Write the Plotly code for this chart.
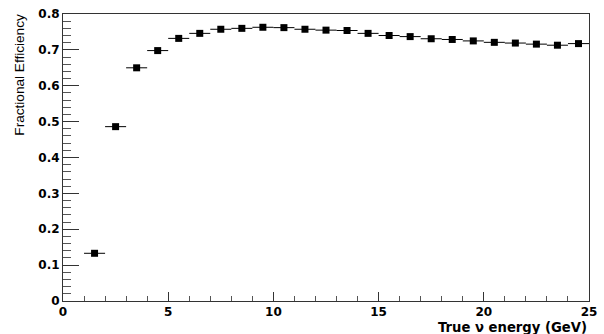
import plotly.graph_objects as go

energy = [1.5, 2.5, 3.5, 4.5, 5.5, 6.5, 7.5, 8.5, 9.5, 10.5, 11.5, 12.5,
          13.5, 14.5, 15.5, 16.5, 17.5, 18.5, 19.5, 20.5, 21.5, 22.5, 23.5, 24.5]
efficiency = [0.133, 0.486, 0.650, 0.698, 0.732, 0.746, 0.7575, 0.760, 0.763,
              0.762, 0.7575, 0.755, 0.754, 0.746, 0.740, 0.737, 0.731, 0.729,
              0.725, 0.721, 0.719, 0.716, 0.713, 0.7175]
bin_half_width = [0.5] * len(energy)

fig = go.Figure()
fig.add_trace(go.Scatter(
    x=energy, y=efficiency, mode="markers",
    marker=dict(symbol="square", size=7, color="black"),
    error_x=dict(type="data", array=bin_half_width, visible=True,
                 thickness=1, width=0, color="black"),
    showlegend=False,
))

font = dict(family="DejaVu Sans, sans-serif", size=12, color="black", weight="bold")
xtfont = dict(family="DejaVu Sans, sans-serif", size=13.2, color="black", weight="bold")
ytfont = dict(family="Liberation Sans, Arial, sans-serif", size=13.6, color="black")

fig.update_layout(
    width=604, height=334,
    margin=dict(l=63, r=7, t=13, b=33),
    paper_bgcolor="white", plot_bgcolor="white",
    xaxis=dict(range=[0, 25], tickvals=[0, 5, 10, 15, 20, 25],
               ticks="inside", ticklen=9, tickwidth=1, tickcolor="#333",
               minor=dict(dtick=1, ticks="inside", ticklen=5, tickcolor="#555", showgrid=False),
               showline=True, linecolor="#333", linewidth=1, mirror=True,
               showgrid=False, zeroline=False, tickfont=font,
               ticklabeloverflow="allow"),
    yaxis=dict(range=[0, 0.8], tickvals=[0, 0.1, 0.2, 0.3, 0.4, 0.5, 0.6, 0.7, 0.8],
               ticktext=["0", "0.1", "0.2", "0.3", "0.4", "0.5", "0.6", "0.7", "0.8"],
               ticks="inside", ticklen=16, tickwidth=1, tickcolor="#333",
               minor=dict(dtick=0.02, ticks="inside", ticklen=8, tickcolor="#555", showgrid=False),
               showline=True, linecolor="#333", linewidth=1, mirror=True,
               showgrid=False, zeroline=False, tickfont=font,
               ticklabeloverflow="allow"),
    annotations=[
        dict(text="True ν energy (GeV)", xref="paper", yref="paper",
             x=1, y=-26.5/288, xanchor="right", yanchor="middle",
             showarrow=False, font=xtfont),
        dict(text="Fractional Efficiency", xref="paper", yref="paper",
             x=-44/534, y=1.007, xanchor="center", yanchor="top", textangle=-90,
             showarrow=False, font=ytfont),
    ],
)

fig.write_html("out.html", config={"displayModeBar": False},
               post_script="document.body.style.margin='0';")
